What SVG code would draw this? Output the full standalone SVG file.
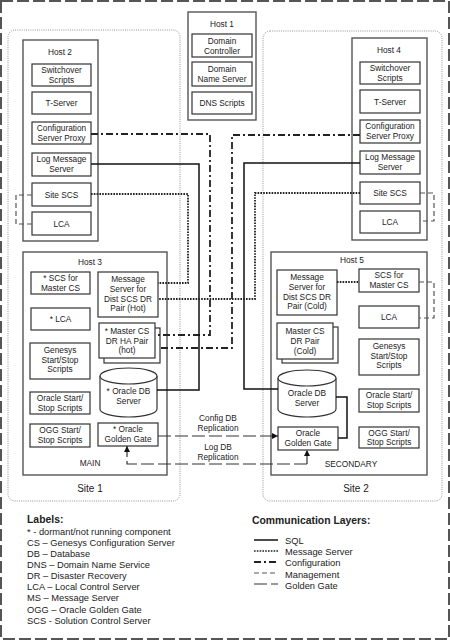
<svg xmlns="http://www.w3.org/2000/svg" width="450" height="641" viewBox="0 0 450 641">
<style>
text{font-family:"Liberation Sans",Arial,sans-serif;fill:#222;font-size:8.3px;text-anchor:middle}
.lg{font-size:9.3px;text-anchor:start}
.hd{font-size:10.4px;font-weight:bold;text-anchor:start}
.st{font-size:10px}
.outer{fill:none;stroke:#555;stroke-width:2;stroke-dasharray:12,4}
.site{fill:none;stroke:#888;stroke-width:0.9;stroke-dasharray:1,1.2}
.host{fill:none;stroke:#555;stroke-width:1.4}
.box{fill:#fff;stroke:#333;stroke-width:1.2}
.sql{fill:none;stroke:#111;stroke-width:1.5}
.msg{fill:none;stroke:#222;stroke-width:1.8;stroke-dasharray:1.6,1.2}
.cfg{fill:none;stroke:#222;stroke-width:1.8;stroke-dasharray:7,3,2,3}
.mgmt{fill:none;stroke:#555;stroke-width:1.2;stroke-dasharray:5,3}
.gg{fill:none;stroke:#333;stroke-width:1.2;stroke-dasharray:13,4}
</style>
<defs>
<marker id="arr" viewBox="0 0 10 10" refX="10" refY="5" markerWidth="6" markerHeight="6" markerUnits="userSpaceOnUse" orient="auto">
<path d="M0,0L10,5L0,10z" fill="#111"/>
</marker>
</defs>
<rect class="outer" x="1" y="1" width="448" height="638"/>

<g id="site1"><rect class="site" x="8" y="30" width="172" height="471" rx="7"/><text class="st" x="90" y="492">Site 1</text></g>
<g id="site2"><rect class="site" x="263" y="31" width="179" height="470" rx="7"/><text class="st" x="356" y="492">Site 2</text></g>

<g id="host1">
<rect class="host" x="188" y="12" width="68" height="108"/>
<text x="222" y="27">Host 1</text>
<rect class="box" x="192" y="34" width="60" height="23"/><text x="222" y="44">Domain</text><text x="222" y="53.5">Controller</text>
<rect class="box" x="192" y="62" width="60" height="24"/><text x="222" y="72">Domain</text><text x="222" y="82">Name Server</text>
<rect class="box" x="192" y="92" width="60" height="22"/><text x="222" y="106">DNS Scripts</text>
</g>

<g id="host2">
<rect class="host" x="23" y="40" width="75" height="201"/>
<text x="60" y="55">Host 2</text>
<rect class="box" x="32" y="64" width="59" height="22"/><text x="61.5" y="73">Switchover</text><text x="61.5" y="82.5">Scripts</text>
<rect class="box" x="32" y="92" width="59" height="22"/><text x="61.5" y="106">T-Server</text>
<rect class="box" x="32" y="122" width="59" height="22"/><text x="61.5" y="131">Configuration</text><text x="61.5" y="140.5">Server Proxy</text>
<rect class="box" x="32" y="153" width="59" height="23"/><text x="61.5" y="162">Log Message</text><text x="61.5" y="172">Server</text>
<rect class="box" x="32" y="183" width="59" height="23"/><text x="61.5" y="197.5">Site SCS</text>
<rect class="box" x="32" y="212" width="59" height="23"/><text x="61.5" y="226.5">LCA</text>
</g>

<g id="host4">
<rect class="host" x="352" y="38" width="75" height="202"/>
<text x="389" y="53">Host 4</text>
<rect class="box" x="360" y="62" width="60" height="22"/><text x="390" y="71">Switchover</text><text x="390" y="80.5">Scripts</text>
<rect class="box" x="360" y="90" width="60" height="23"/><text x="390" y="104.5">T-Server</text>
<rect class="box" x="360" y="120" width="60" height="23"/><text x="390" y="129">Configuration</text><text x="390" y="139">Server Proxy</text>
<rect class="box" x="360" y="151" width="60" height="23"/><text x="390" y="160">Log Message</text><text x="390" y="170">Server</text>
<rect class="box" x="360" y="182" width="60" height="22"/><text x="390" y="196">Site SCS</text>
<rect class="box" x="360" y="211" width="60" height="22"/><text x="390" y="225">LCA</text>
</g>

<g id="host3">
<rect class="host" x="23" y="252" width="144" height="223"/>
<text x="90" y="265">Host 3</text>
<rect class="box" x="31" y="272" width="59" height="22"/><text x="60.5" y="281">* SCS for</text><text x="60.5" y="290.5">Master CS</text>
<rect class="box" x="98" y="272" width="60" height="45"/><text x="128" y="282">Message</text><text x="128" y="292">Server for</text><text x="128" y="301.5">Dist SCS DR</text><text x="128" y="311">Pair (Hot)</text>
<rect class="box" x="31" y="308" width="59" height="22"/><text x="60.5" y="322">* LCA</text>
<rect class="box" x="104" y="328" width="56" height="35"/>
<rect class="box" x="99" y="323" width="56" height="35"/><text x="127" y="334">* Master CS</text><text x="127" y="343.5">DR HA Pair</text><text x="127" y="353">(hot)</text>
<rect class="box" x="30" y="343" width="60" height="36"/><text x="60" y="353">Genesys</text><text x="60" y="362.5">Start/Stop</text><text x="60" y="372">Scripts</text>
<path class="box" d="M100,376A28.5,8 0 0 1 157,376V409A28.5,8 0 0 1 100,409Z"/><path class="box" d="M100,376A28.5,8 0 0 0 157,376"/>
<text x="128.5" y="394">* Oracle DB</text><text x="128.5" y="404">Server</text>
<rect class="box" x="30" y="392" width="60" height="22"/><text x="60" y="401">Oracle Start/</text><text x="60" y="410.5">Stop Scripts</text>
<rect class="box" x="30" y="424" width="60" height="23"/><text x="60" y="433">OGG Start/</text><text x="60" y="443">Stop Scripts</text>
<rect class="box" x="98" y="423" width="60" height="23"/><text x="128" y="432">* Oracle</text><text x="128" y="442">Golden Gate</text>
<text x="90" y="466">MAIN</text>
</g>

<g id="host5">
<rect class="host" x="271" y="252" width="156" height="223"/>
<text x="352" y="263">Host 5</text>
<rect class="box" x="277" y="270" width="60" height="45"/><text x="307" y="280">Message</text><text x="307" y="290">Server for</text><text x="307" y="299.5">Dist SCS DR</text><text x="307" y="309">Pair (Cold)</text>
<rect class="box" x="359" y="269" width="60" height="23"/><text x="389" y="278">SCS for</text><text x="389" y="288">Master CS</text>
<rect class="box" x="359" y="306" width="60" height="22"/><text x="389" y="320">LCA</text>
<rect class="box" x="282" y="327" width="56" height="36"/>
<rect class="box" x="277" y="323" width="56" height="36"/><text x="305" y="334">Master CS</text><text x="305" y="344">DR Pair</text><text x="305" y="353.5">(Cold)</text>
<rect class="box" x="359" y="339" width="60" height="36"/><text x="389" y="349">Genesys</text><text x="389" y="358.5">Start/Stop</text><text x="389" y="368">Scripts</text>
<path class="box" d="M278,378A29,8 0 0 1 336,378V409A29,8 0 0 1 278,409Z"/><path class="box" d="M278,378A29,8 0 0 0 336,378"/>
<text x="307" y="396">Oracle DB</text><text x="307" y="406">Server</text>
<rect class="box" x="359" y="389" width="60" height="23"/><text x="389" y="398">Oracle Start/</text><text x="389" y="408">Stop Scripts</text>
<rect class="box" x="278" y="427" width="60" height="23"/><text x="308" y="436">Oracle</text><text x="308" y="446">Golden Gate</text>
<rect class="box" x="359" y="427" width="60" height="21"/><text x="389" y="435.5">OGG Start/</text><text x="389" y="445">Stop Scripts</text>
<text x="351" y="467">SECONDARY</text>
</g>

<g id="connectors">
<path class="cfg" d="M91,134H210V335H155"/>
<path class="cfg" d="M360,135H232V348H160"/>
<path class="sql" d="M91,164H199V390H157"/>
<path class="sql" d="M360,163H244V389H278"/>
<path class="sql" d="M336,397H347V438H338"/>
<path class="msg" d="M91,194H188V283H158"/>
<path class="msg" d="M360,193H255V299H158"/>
<path class="msg" d="M337,282H359"/>
<path class="mgmt" d="M32,195H16V224H32"/>
<path class="mgmt" d="M420,193H434V221H420"/>
<path class="mgmt" d="M419,282H434V318H419"/>
<path class="gg" d="M158,436H278" marker-end="url(#arr)"/>
<path class="gg" d="M307,464V450" marker-end="url(#arr)"/>
<path class="gg" d="M307,464H127V446" marker-end="url(#arr)"/>
<text x="218" y="421">Config DB</text><text x="218" y="431">Replication</text>
<text x="218" y="450">Log DB</text><text x="218" y="460">Replication</text>
</g>

<g id="legend-labels">
<text class="hd" x="27" y="523">Labels:</text>
<text class="lg" x="27" y="534.5">* - dormant/not running component</text>
<text class="lg" x="27" y="545.7">CS – Genesys Configuration Server</text>
<text class="lg" x="27" y="556.8">DB – Database</text>
<text class="lg" x="27" y="568">DNS – Domain Name Service</text>
<text class="lg" x="27" y="579.1">DR – Disaster Recovery</text>
<text class="lg" x="27" y="590.3">LCA – Local Control Server</text>
<text class="lg" x="27" y="601.4">MS – Message Server</text>
<text class="lg" x="27" y="612.6">OGG – Oracle Golden Gate</text>
<text class="lg" x="27" y="623.7">SCS - Solution Control Server</text>
</g>

<g id="legend-layers">
<text class="hd" x="252" y="524">Communication Layers:</text>
<path class="sql" d="M254,540H278"/><text class="lg" x="285" y="544">SQL</text>
<path class="msg" style="stroke-width:1.3" d="M254,551H278"/><text class="lg" x="285" y="555">Message Server</text>
<path class="cfg" d="M254,562H278"/><text class="lg" x="285" y="566">Configuration</text>
<path class="mgmt" d="M254,573H278"/><text class="lg" x="285" y="577.5">Management</text>
<path class="gg" d="M254,584H278"/><text class="lg" x="285" y="589">Golden Gate</text>
</g>
</svg>
